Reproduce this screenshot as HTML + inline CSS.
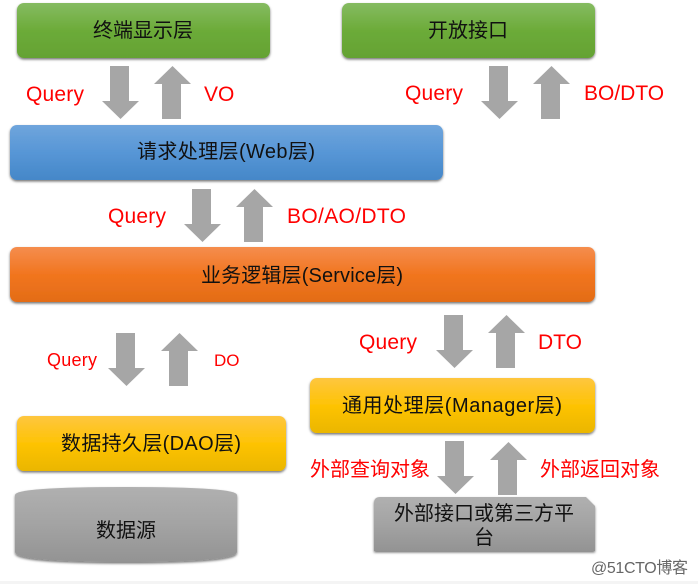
<!DOCTYPE html>
<html><head><meta charset="utf-8">
<style>
html,body{margin:0;padding:0;background:#fff;width:698px;height:584px;overflow:hidden}
svg{display:block}
text{font-family:"Liberation Sans","Noto Sans CJK SC",sans-serif}
.b{font-size:20px;fill:#111;text-anchor:middle}
.r{font-size:21px;fill:#f00}
</style></head><body>
<svg width="698" height="584" viewBox="0 0 698 584" xmlns="http://www.w3.org/2000/svg">
<defs>
<linearGradient id="g" x1="0" y1="0" x2="0" y2="1"><stop offset="0" stop-color="#85bb61"/><stop offset=".5" stop-color="#6cab39"/><stop offset="1" stop-color="#64a233"/></linearGradient>
<linearGradient id="bl" x1="0" y1="0" x2="0" y2="1"><stop offset="0" stop-color="#6fa5dc"/><stop offset=".5" stop-color="#5796d6"/><stop offset="1" stop-color="#4587c8"/></linearGradient>
<linearGradient id="o" x1="0" y1="0" x2="0" y2="1"><stop offset="0" stop-color="#f58d4e"/><stop offset=".5" stop-color="#f1751f"/><stop offset="1" stop-color="#e36c16"/></linearGradient>
<linearGradient id="y" x1="0" y1="0" x2="0" y2="1"><stop offset="0" stop-color="#fec63f"/><stop offset=".5" stop-color="#fec304"/><stop offset="1" stop-color="#eab600"/></linearGradient>
<linearGradient id="gr" x1="0" y1="0" x2="0" y2="1"><stop offset="0" stop-color="#b0b0b0"/><stop offset=".5" stop-color="#a3a3a3"/><stop offset="1" stop-color="#939393"/></linearGradient>
<filter id="s" x="-5%" y="-10%" width="110%" height="125%"><feDropShadow dx="0" dy="1.5" stdDeviation="1.2" flood-color="#000" flood-opacity=".55"/></filter>
<path id="d" d="M8 0H27V35H37L18.500 53L0 35H8Z" fill="#a6a6a6"/>
<path id="u" d="M8 53H27V18H37L18.500 0L0 18H8Z" fill="#a6a6a6"/>
</defs>
<rect x="0" y="581" width="698" height="3" fill="#f4f4f4"/>

<rect x="17" y="3" width="253" height="55" rx="7" fill="url(#g)" filter="url(#s)"/>
<rect x="342" y="3" width="253" height="55" rx="7" fill="url(#g)" filter="url(#s)"/>
<rect x="10" y="125" width="433" height="55" rx="7" fill="url(#bl)" filter="url(#s)"/>
<rect x="10" y="247" width="585" height="55" rx="7" fill="url(#o)" filter="url(#s)"/>
<rect x="310" y="378" width="285" height="55" rx="7" fill="url(#y)" filter="url(#s)"/>
<rect x="17" y="416" width="269" height="55" rx="7" fill="url(#y)" filter="url(#s)"/>
<path d="M15 495Q15 487 126 487Q237 487 237 495V552Q237 562 126 562Q15 562 15 552Z" fill="url(#gr)" filter="url(#s)"/>
<path d="M380 497H586L595 506V551H374V503Q374 497 380 497Z" fill="url(#gr)" filter="url(#s)"/>

<use href="#d" x="102" y="66"/><use href="#u" x="154" y="66"/>
<use href="#d" x="481" y="66"/><use href="#u" x="533" y="66"/>
<use href="#d" x="184" y="189"/><use href="#u" x="236" y="189"/>
<use href="#d" x="108" y="333"/><use href="#u" x="161" y="333"/>
<use href="#d" x="436" y="315"/><use href="#u" x="488" y="315"/>
<use href="#d" x="437" y="441"/><use href="#u" x="490" y="442"/>

<text class="b" x="143" y="37">终端显示层</text>
<text class="b" x="468" y="37">开放接口</text>
<text class="b" x="226" y="158" textLength="178">请求处理层(Web层)</text>
<text class="b" x="302" y="282" textLength="202">业务逻辑层(Service层)</text>
<text class="b" x="452" y="412" textLength="220">通用处理层(Manager层)</text>
<text class="b" x="151" y="450" textLength="180">数据持久层(DAO层)</text>
<text class="b" x="126" y="537">数据源</text>
<text class="b" x="484" y="520">外部接口或第三方平</text>
<text class="b" x="484" y="544">台</text>

<text class="r" x="26" y="101" textLength="58">Query</text>
<text class="r" x="204" y="101">VO</text>
<text class="r" x="405" y="100" textLength="58">Query</text>
<text class="r" x="584" y="100">BO/DTO</text>
<text class="r" x="108" y="223" textLength="58">Query</text>
<text class="r" x="287" y="223" textLength="119">BO/AO/DTO</text>
<text class="r" style="font-size:18px" x="47" y="366" textLength="50">Query</text>
<text class="r" style="font-size:17px" x="214" y="366">DO</text>
<text class="r" x="359" y="349" textLength="58">Query</text>
<text class="r" x="538" y="349">DTO</text>
<text class="r" style="font-size:20px" x="310" y="476">外部查询对象</text>
<text class="r" style="font-size:20px" x="540" y="476">外部返回对象</text>

<text x="591" y="573" textLength="97" style="font-size:16px;fill:#666">@51CTO博客</text>
</svg>
</body></html>
